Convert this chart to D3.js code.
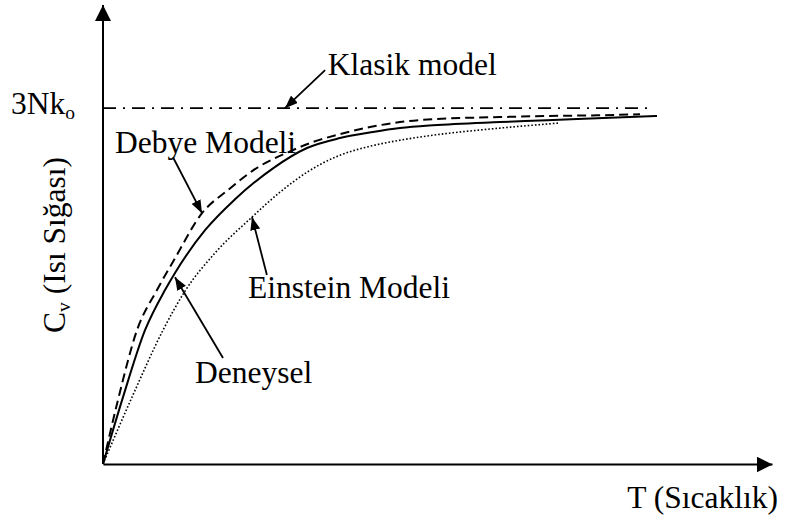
<!DOCTYPE html>
<html>
<head>
<meta charset="utf-8">
<script src="https://cdn.jsdelivr.net/npm/d3@7"></script>
</head>
<body style="margin:0">
<svg id="chart" width="792" height="520"></svg>
<script>
// values (T in arbitrary units, Cv in units of 3Nk_o)
const deneyselT  = [0, 0.299, 0.628, 0.927, 1.076, 1.525, 1.973, 2.541, 3.049, 3.543, 4.036, 4.439, 4.933, 5.934, 6.637, 7.384, 8.281];
const deneyselCv = [0, 0.188, 0.376, 0.489, 0.537, 0.657, 0.744, 0.831, 0.888, 0.916, 0.933, 0.944, 0.952, 0.961, 0.966, 0.972, 0.978];

const debyeT  = [0, 0.224, 0.508, 0.807, 1.061, 1.480, 1.868, 2.317, 2.765, 3.124, 3.543, 3.991, 4.439, 4.933, 5.934, 6.637, 7.384, 8.027];
const debyeCv = [0, 0.180, 0.376, 0.489, 0.573, 0.705, 0.770, 0.834, 0.876, 0.904, 0.927, 0.947, 0.961, 0.969, 0.975, 0.978, 0.980, 0.983];

const einsteinT  = [0, 0.448, 0.897, 1.226, 1.674, 2.227, 2.646, 3.049, 3.543, 3.991, 4.439, 4.933, 5.934, 6.801];
const einsteinCv = [0, 0.194, 0.376, 0.486, 0.593, 0.694, 0.764, 0.820, 0.868, 0.893, 0.910, 0.924, 0.944, 0.958];

const klasikT  = [0, 8.21];
const klasikCv = [1, 1];

// annotation: label, text position, arrow tail, arrow tip (data units)
const labels    = ["Klasik model", "Debye Modeli", "Einstein Modeli", "Deneysel"];
const labelPos  = [[3.36, 1.093], [0.18, 0.874], [2.167, 0.466], [1.375, 0.228]];
const arrowFrom = [[3.32, 1.107], [1.046, 0.862], [2.45, 0.531], [1.794, 0.298]];
const arrowTo   = [[2.72, 1.0], [1.48, 0.705], [2.227, 0.694], [1.076, 0.525]];

const xDomain = [0, 10];
const yDomain = [0, 1.29];

const fontFamily = "'Liberation Serif'";
const fontSize = 31.5;

const svg = d3.select("#chart");

const x = d3.scaleLinear().domain(xDomain).range([103, 772]);
const y = d3.scaleLinear().domain(yDomain).range([464, 5]);

// arrow markers
const defs = svg.append("defs");
defs.append("marker")
    .attr("id", "axisHead")
    .attr("viewBox", "0 0 16 16")
    .attr("refX", 16).attr("refY", 8)
    .attr("markerWidth", 16).attr("markerHeight", 16)
    .attr("markerUnits", "userSpaceOnUse")
    .attr("orient", "auto")
    .append("path")
    .attr("d", "M0,0 L16,8 L0,16 Z")
    .attr("fill", "#000");
defs.append("marker")
    .attr("id", "noteHead")
    .attr("viewBox", "0 0 13 10")
    .attr("refX", 13).attr("refY", 5)
    .attr("markerWidth", 13).attr("markerHeight", 10)
    .attr("markerUnits", "userSpaceOnUse")
    .attr("orient", "auto")
    .append("path")
    .attr("d", "M0,0 L13,5 L0,10 Z")
    .attr("fill", "#000");

// axes: only the domain line, no ticks
const xAxis = svg.append("g")
    .attr("transform", "translate(0," + y(0) + ")")
    .call(d3.axisBottom(x).tickValues([]).tickSizeOuter(0));
xAxis.select(".domain")
    .attr("stroke-width", 2)
    .attr("marker-end", "url(#axisHead)");

const yAxis = svg.append("g")
    .attr("transform", "translate(" + x(0) + ",0)")
    .call(d3.axisLeft(y).tickValues([]).tickSizeOuter(0));
// draw domain upward so the marker sits at the top
yAxis.select(".domain")
    .attr("d", "M0," + y(0) + "V" + y(yDomain[1]))
    .attr("stroke-width", 2)
    .attr("marker-end", "url(#axisHead)");

function zip(xs, ys){
    return xs.map(function(v, i){ return [v, ys[i]]; });
}

const line = d3.line()
    .x(function(d){ return x(d[0]); })
    .y(function(d){ return y(d[1]); })
    .curve(d3.curveMonotoneX);

const series = [
    {data: zip(klasikT, klasikCv), dash: "13,7,2,7", width: 1.8},
    {data: zip(einsteinT, einsteinCv), dash: "1.6,2", width: 1.6},
    {data: zip(debyeT, debyeCv), dash: "9,5", width: 2},
    {data: zip(deneyselT, deneyselCv), dash: null, width: 2}
];

svg.append("g").selectAll("path")
    .data(series)
    .join("path")
    .attr("d", function(d){ return line(d.data); })
    .attr("fill", "none")
    .attr("stroke", "#000")
    .attr("stroke-width", function(d){ return d.width; })
    .attr("stroke-dasharray", function(d){ return d.dash; });

function serifText(sel){
    return sel.attr("font-size", fontSize)
        .style("font-family", fontFamily);
}

// annotation arrows and labels
const notes = svg.append("g");
labels.forEach(function(label, i){
    notes.append("line")
        .attr("x1", x(arrowFrom[i][0])).attr("y1", y(arrowFrom[i][1]))
        .attr("x2", x(arrowTo[i][0])).attr("y2", y(arrowTo[i][1]))
        .attr("stroke", "#000")
        .attr("stroke-width", 1.8)
        .attr("marker-end", "url(#noteHead)");
    notes.append("text")
        .attr("x", x(labelPos[i][0]))
        .attr("y", y(labelPos[i][1]))
        .call(serifText)
        .text(label);
});

// 3Nk_o level label
const level = svg.append("text")
    .attr("x", x(0) - 28)
    .attr("y", y(1) + 6)
    .attr("text-anchor", "end")
    .call(serifText);
level.append("tspan").text("3Nk");
level.append("tspan")
    .attr("font-size", fontSize * 0.62)
    .attr("dy", 5)
    .text("o");

// axis titles
svg.append("text")
    .attr("x", 778)
    .attr("y", 508)
    .attr("text-anchor", "end")
    .call(serifText)
    .text("T (Sıcaklık)");

const yTitle = svg.append("text")
    .attr("transform", "translate(65,333) rotate(-90)")
    .attr("text-anchor", "start")
    .call(serifText);
yTitle.append("tspan").text("C");
yTitle.append("tspan")
    .attr("font-size", fontSize * 0.62)
    .attr("dy", 5)
    .text("v");
yTitle.append("tspan")
    .attr("dy", -5)
    .text(" (Isı Sığası)");
</script>
</body>
</html>
